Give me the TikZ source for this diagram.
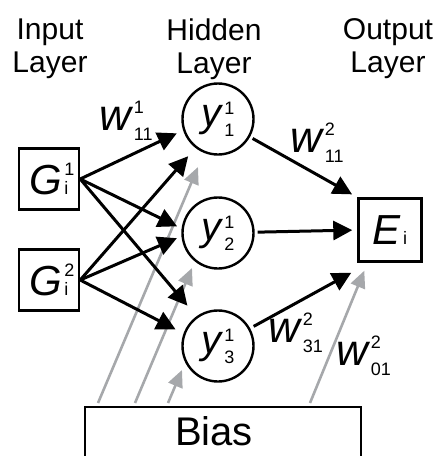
\documentclass[tikz,border=0pt]{standalone}
\usepackage{fontspec}
\setmainfont{Liberation Sans}
\usepackage{tikz}
\usetikzlibrary{arrows.meta,calc}
\definecolor{biasGray}{RGB}{166,168,171}
\newcommand{\idxFont}[0]{\fontsize{18}{18}\selectfont}
\newcommand{\wLabel}[2]{\fontsize{44}{44}\selectfont\textit{w}\kern0.5pt\rlap{\raisebox{17pt}{\idxFont #1}}\raisebox{-10pt}{\idxFont #2}}
\newcommand{\yLabel}[2]{\fontsize{40}{40}\selectfont\textit{y}\kern0.5pt\rlap{\raisebox{12pt}{\idxFont #1}}\raisebox{-10pt}{\idxFont #2}}
\newcommand{\boxLabel}[3]{\fontsize{42}{42}\selectfont\textit{#1}\kern2pt\rlap{\raisebox{19pt}{\idxFont #2}}{\idxFont #3}}

\begin{document}
\begin{tikzpicture}[x=1pt, y=-1pt]
  \tikzset{layer/.style={align=center,font=\fontsize{30}{33}\selectfont},
    unit/.style={draw,line width=2.4pt,rectangle,minimum width=60pt,minimum height=61pt,inner sep=0pt},
    neuron/.style={draw,line width=2.4pt,circle,minimum size=71pt,inner sep=0pt},
    weight/.style={inner sep=0pt,anchor=base west},
    link/.style={line width=3pt,-{Triangle[length=19pt,width=19pt]}},
    biaslink/.style={biasGray,line width=2.6pt,-{Triangle[length=17pt,width=15pt]}}}
  \useasboundingbox (0,0) rectangle (435,456);
  \clip (0,0) rectangle (435,456);
  % layer titles
  \node[layer] (inTitle) at (50,49) {Input\\Layer};
  \node[layer] (hidTitle) at (214,49) {Hidden\\Layer};
  \node[layer] (outTitle) at (388,49) {Output\\Layer};
  % units
  \node[unit] (G1) at (49,179) {\boxLabel{G}{1}{i}};
  \node[unit] (G2) at (49,280) {\boxLabel{G}{2}{i}};
  \node[neuron] (y1) at (218,119) {\yLabel{1}{1}};
  \node[neuron] (y2) at (218,233) {\yLabel{1}{2}};
  \node[neuron] (y3) at (218,346) {\yLabel{1}{3}};
  \node[unit,minimum size=63pt] (E) at (390,230) {\boxLabel{E}{}{i}};
  % bias
  \draw[line width=2pt] (85,470) -- (85,407) -- (361,407) -- (361,470);
  \node[font=\fontsize{40}{40}\selectfont,anchor=base] (bias) at (214,445) {Bias};
  \coordinate (b1) at (98,403);
  \coordinate (b2) at (135,403);
  \coordinate (b3) at (168,403);
  \coordinate (b4) at (310,403);
  \coordinate (t1) at ($(y1)+(-20,48)$);
  \coordinate (t2) at ($(y2)+(-26,35)$);
  \coordinate (t3) at ($(y3)+(-36,24)$);
  \coordinate (t4) at ($(E.south west)+(7,8)$);
  \foreach \s/\t in {b1/t1,b2/t2,b3/t3,b4/t4}
    \draw[biaslink] (\s) -- (\t);
  % weights
  \foreach \g/\y/\a/\d in {G1/y1/198/7,G2/y1/232/11,G1/y2/173/5,G2/y2/185/5,G1/y3/126/14,G2/y3/160/9}
    \draw[link,shorten >=\d pt] (\g.east) -- (\y.\a);
  \draw[link,shorten <=3pt,shorten >=6pt] (y1) -- (E.north west);
  \draw[link,shorten <=3pt,shorten >=5pt] (y2) -- (E.west);
  \draw[link,shorten <=4pt] (y3) -- ($(E.south west)+(-6,10)$);
  \node[weight] (w111) at (99,130) {\wLabel{1}{11}};
  \node[weight] (w211) at (290,152) {\wLabel{2}{11}};
  \node[weight] (w231) at (268,342) {\wLabel{2}{31}};
  \node[weight] (w201) at (336,365) {\wLabel{2}{01}};
\end{tikzpicture}
\end{document}
